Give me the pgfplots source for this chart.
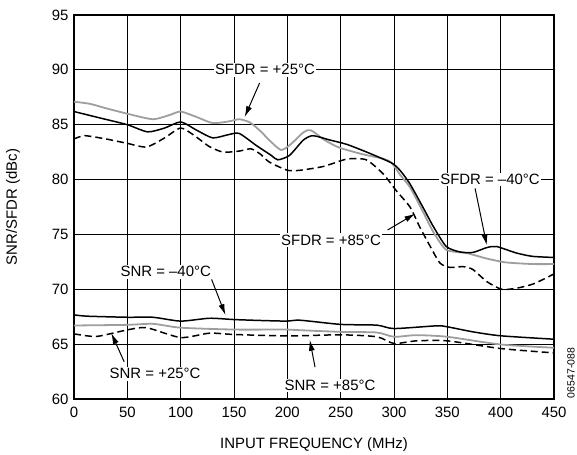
\documentclass[border=0pt]{standalone}
\usepackage{fontspec}
\setmainfont{Liberation Sans}
\usepackage{pgfplots}
\pgfplotsset{compat=1.18}
\usetikzlibrary{arrows.meta}
\definecolor{lgray}{gray}{0.62}
\tikzset{
  annot/.style={fill=white, inner sep=1.5pt, font=\fontsize{15}{17}\selectfont},
  arr/.style={-{Latex[length=11bp,width=6bp]}, line width=1pt, black},
}
\begin{document}
\begin{tikzpicture}
\begin{axis}[
  scale only axis, width=480bp, height=384bp,
  xmin=0, xmax=450, ymin=60, ymax=95,
  xtick={0,50,...,450}, ytick={60,65,...,95},
  grid=major, major grid style={black, line width=0.8pt},
  axis line style={line width=1.4pt},
  tick style={draw=none},
  clip=false,
  /pgf/number format/assume math mode=true,
  tick label style={font=\fontsize{15}{17}\selectfont},
  xticklabel style={yshift=-5bp},
  yticklabel style={xshift=-2bp},
  every axis x label/.style={at={([yshift=-46bp]axis description cs:0.5,0)},anchor=center},
  every axis y label/.style={at={([xshift=-61bp]axis description cs:0,0.5)},rotate=90,anchor=center},
  label style={font=\fontsize{15}{17}\selectfont},
  xlabel={INPUT FREQUENCY (MHz)},
  ylabel={SNR/SFDR (dBc)},
]
\coordinate (sw) at (rel axis cs:0,0);
\coordinate (ne) at (rel axis cs:1,1);
% SFDR +25 (gray)
\addplot[lgray, line width=1.8pt, smooth, tension=0.4] coordinates {
(0,87.1) (15,86.9) (30,86.5) (50,86.0) (74,85.5) (90,85.9) (100,86.2) (115,85.7) (130,85.15) (145,85.3) (155,85.5) (165,85.2) (175,84.4) (183,83.6) (194,82.7) (203,83.2) (215,84.3) (222,84.5) (235,83.6) (249,82.9) (271,82.3) (290,81.9) (298,81.5) (306,80.4) (315,79.3) (327,77.1) (337,75.2) (349,73.6) (368,73.3) (387,72.8) (405,72.45) (430,72.3) (450,72.3)};
% SFDR -40 (black)
\addplot[black, line width=1.5pt, smooth, tension=0.4] coordinates {
(0,86.2) (25,85.6) (50,85.0) (69,84.35) (85,84.7) (100,85.25) (115,84.5) (130,83.8) (145,84.1) (155,84.2) (171,83.1) (185,82.2) (191,81.8) (202,82.2) (215,83.6) (224,84.0) (240,83.6) (256,83.2) (277,82.4) (298,81.5) (306,80.8) (315,79.6) (327,77.5) (337,75.7) (349,73.9) (362,73.4) (374,73.36) (387,73.8) (396,73.9) (415,73.3) (430,73.0) (450,72.9)};
% SFDR +85 (dashed)
\addplot[black, line width=1.5pt, dash pattern=on 7bp off 4bp, smooth, tension=0.4] coordinates {
(0,83.7) (10,84.0) (30,83.7) (50,83.3) (68,82.97) (85,83.8) (100,84.7) (113,84.0) (127,83.0) (140,82.5) (155,82.6) (166,82.8) (175,82.3) (183,81.6) (200,80.85) (212,80.85) (234,81.2) (256,81.87) (274,81.8) (290,80.5) (302,79.0) (315,77.5) (324,75.7) (334,73.9) (343,72.4) (352,72.0) (365,72.06) (374,71.8) (387,70.7) (401,70.0) (415,70.1) (431,70.5) (450,71.4)};
% SNR -40 (black)
\addplot[black, line width=1.5pt, smooth, tension=0.4] coordinates {
(0,67.67) (12,67.55) (50,67.45) (74,67.45) (100,67.1) (127,67.36) (150,67.24) (177,67.15) (200,67.1) (212,67.18) (250,66.8) (284,66.73) (300,66.42) (340,66.67) (350,66.58) (374,66.12) (400,65.76) (450,65.45)};
% SNR +25 (gray)
\addplot[lgray, line width=1.8pt, smooth, tension=0.4] coordinates {
(0,66.7) (50,66.76) (74,66.85) (100,66.5) (150,66.33) (200,66.33) (212,66.27) (250,66.12) (284,66.06) (300,65.67) (321,65.82) (350,65.67) (400,64.97) (450,64.67)};
% SNR +85 (dashed)
\addplot[black, line width=1.5pt, dash pattern=on 7bp off 4bp, smooth, tension=0.4] coordinates {
(0,65.94) (21,65.7) (50,66.3) (68,66.5) (100,65.6) (127,66.0) (150,65.88) (200,65.75) (250,65.85) (284,65.67) (300,65.06) (321,65.3) (350,65.3) (400,64.6) (450,64.2)};
% annotations
\draw[arr] (axis cs:174,88.8) -- (axis cs:160,85.7);
\node[annot] at (axis cs:179,90) {SFDR = +25°C};
\draw[arr] (axis cs:376,79.2) -- (axis cs:387,74.0);
\node[annot] at (axis cs:390,80) {SFDR = –40°C};
\draw[arr] (axis cs:294,75.4) -- (axis cs:320,76.9);
\node[annot] at (axis cs:241,74.5) {SFDR = +85°C};
\draw[arr] (axis cs:129,70.9) -- (axis cs:142,67.65);
\node[annot] at (axis cs:86,71.6) {SNR = –40°C};
\draw[arr] (axis cs:47,63.4) -- (axis cs:35,66.0);
\node[annot] at (axis cs:76,62.3) {SNR = +25°C};
\draw[arr] (axis cs:226,62.9) -- (axis cs:221,65.4);
\node[annot] at (axis cs:240,61.25) {SNR = +85°C};
\node[rotate=90, font=\fontsize{10.5}{12}\selectfont, anchor=center] at ([shift={(17bp,26bp)}]rel axis cs:1,0) {06547-088};
\end{axis}
\pgfresetboundingbox
\path[use as bounding box] ([shift={(-74bp,-56bp)}]sw) rectangle ([shift={(23bp,15bp)}]ne);
\end{tikzpicture}
\end{document}
